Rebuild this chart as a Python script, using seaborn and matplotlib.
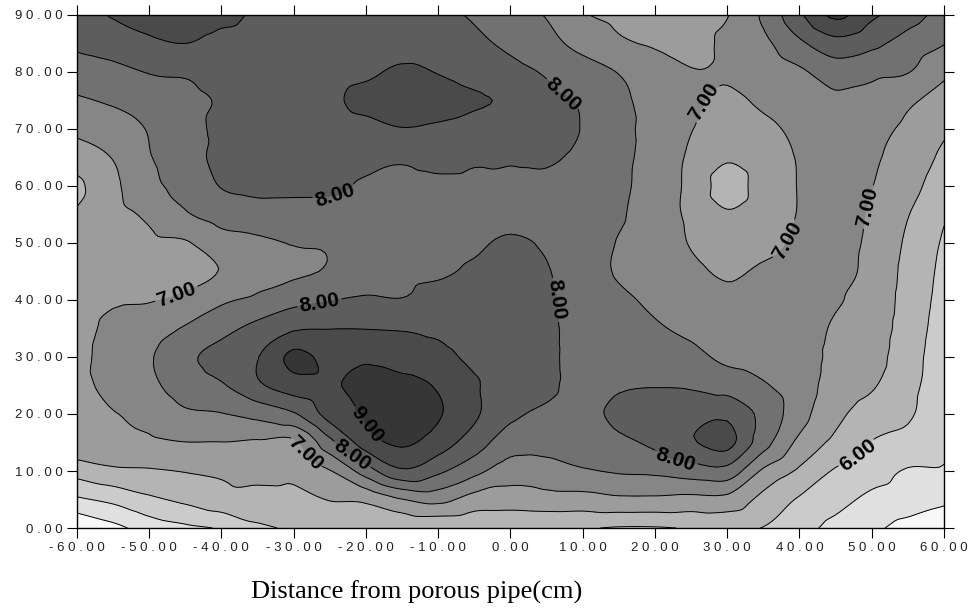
import numpy as np
import pandas as pd
import matplotlib
matplotlib.use("Agg")
from matplotlib import pyplot as plt
import matplotlib.tri as mtri
import seaborn as sns

# distance from porous pipe (cm) and depth (cm) of the grid nodes
distance_cm = [-60, -55, -50, -45, -40, -35, -30, -25, -20, -15, -10, -5, 0,
               5, 10, 15, 20, 25, 30, 35, 40, 45, 50, 55, 60]
depth_cm = [0, 5, 10, 15, 20, 25, 30, 35, 40, 45, 50, 55, 60, 65, 70, 75, 80, 85, 90]

# moisture, one list per distance column (depth 0 -> 90)
moisture_columns = [
    [4.50, 5.42, 6.20, 6.85, 6.88, 6.85, 6.82, 6.80, 6.78, 6.72, 6.65, 6.55, 6.40, 6.75, 7.10, 7.43, 7.79, 8.08, 8.22],
    [4.85, 5.62, 6.40, 6.93, 6.98, 7.15, 7.22, 7.12, 6.95, 6.88, 6.85, 6.85, 6.88, 7.02, 7.25, 7.57, 7.88, 8.20, 8.54],
    [5.22, 5.90, 6.45, 6.92, 7.12, 7.38, 7.45, 7.25, 6.98, 6.90, 6.92, 7.08, 7.40, 7.47, 7.53, 7.75, 8.02, 8.40, 8.72],
    [5.40, 6.10, 6.52, 6.99, 7.42, 7.75, 7.90, 7.55, 7.08, 6.90, 6.96, 7.45, 7.62, 7.74, 7.82, 7.90, 8.05, 8.50, 8.85],
    [5.55, 6.30, 6.58, 6.99, 7.48, 7.95, 8.15, 7.85, 7.42, 7.02, 7.30, 7.70, 8.02, 8.15, 8.10, 8.04, 8.15, 8.35, 8.62],
    [5.92, 6.30, 6.68, 6.94, 7.65, 8.42, 8.48, 8.15, 7.60, 7.32, 7.40, 7.82, 8.10, 8.20, 8.22, 8.25, 8.30, 8.38, 8.45],
    [6.05, 6.35, 6.65, 6.90, 7.95, 8.75, 9.12, 8.45, 7.85, 7.42, 7.52, 7.82, 8.10, 8.20, 8.22, 8.26, 8.30, 8.34, 8.38],
    [6.10, 6.52, 6.97, 7.85, 8.70, 8.88, 8.85, 8.49, 7.98, 7.55, 7.55, 7.82, 8.08, 8.20, 8.30, 8.42, 8.35, 8.33, 8.32],
    [6.10, 6.60, 7.75, 8.75, 9.05, 9.25, 8.90, 8.49, 8.05, 7.85, 7.78, 7.82, 7.95, 8.12, 8.35, 8.62, 8.42, 8.30, 8.25],
    [6.05, 6.98, 8.42, 9.08, 9.35, 9.15, 8.75, 8.47, 8.02, 7.90, 7.85, 7.86, 7.92, 8.05, 8.48, 8.75, 8.58, 8.30, 8.18],
    [6.02, 7.15, 8.10, 8.75, 9.05, 8.95, 8.65, 8.40, 8.15, 7.95, 7.90, 7.90, 7.95, 8.10, 8.42, 8.70, 8.48, 8.25, 8.10],
    [6.05, 6.80, 7.65, 8.25, 8.58, 8.55, 8.40, 8.25, 8.15, 8.05, 7.95, 7.92, 7.95, 8.05, 8.30, 8.56, 8.30, 8.10, 7.95],
    [6.04, 6.75, 7.25, 7.72, 8.10, 8.30, 8.35, 8.30, 8.25, 8.15, 8.05, 7.90, 7.90, 8.05, 8.22, 8.42, 8.15, 7.90, 7.72],
    [6.05, 6.80, 7.32, 7.65, 7.92, 8.08, 8.10, 8.10, 8.08, 8.03, 7.95, 7.85, 7.92, 8.05, 8.18, 8.10, 7.95, 7.65, 7.47],
    [6.03, 6.80, 7.45, 7.75, 7.88, 7.88, 7.85, 7.82, 7.78, 7.72, 7.70, 7.72, 7.80, 7.90, 7.98, 7.95, 7.72, 7.35, 7.05],
    [5.96, 6.90, 7.55, 7.90, 8.10, 7.95, 7.80, 7.70, 7.58, 7.46, 7.48, 7.55, 7.60, 7.62, 7.62, 7.60, 7.48, 7.08, 6.88],
    [5.96, 6.90, 7.60, 8.10, 8.25, 7.98, 7.75, 7.55, 7.42, 7.35, 7.30, 7.27, 7.28, 7.32, 7.36, 7.35, 7.20, 6.95, 6.75],
    [6.02, 6.85, 7.75, 8.45, 8.30, 7.95, 7.65, 7.40, 7.22, 7.10, 6.97, 6.90, 6.88, 6.92, 7.02, 7.08, 7.02, 6.88, 6.80],
    [6.02, 6.85, 7.82, 8.65, 8.40, 7.80, 7.38, 7.20, 7.08, 6.95, 6.78, 6.55, 6.30, 6.55, 6.78, 6.92, 7.05, 7.10, 6.98],
    [5.98, 6.35, 6.92, 7.70, 7.85, 7.55, 7.30, 7.20, 7.12, 7.05, 6.90, 6.78, 6.72, 6.78, 6.90, 7.08, 7.22, 7.38, 7.58],
    [5.68, 5.95, 6.42, 6.88, 7.20, 7.25, 7.22, 7.18, 7.14, 7.10, 7.05, 7.02, 7.02, 7.03, 7.10, 7.25, 7.42, 7.90, 8.42],
    [5.35, 5.68, 5.95, 6.38, 6.62, 6.78, 6.88, 6.95, 7.03, 7.10, 7.15, 7.18, 7.20, 7.22, 7.28, 7.40, 7.75, 8.32, 9.10],
    [5.10, 5.38, 5.72, 5.98, 6.30, 6.55, 6.70, 6.80, 6.85, 6.88, 6.90, 6.94, 7.01, 7.06, 7.15, 7.35, 7.62, 8.12, 8.60],
    [4.85, 5.25, 5.46, 5.85, 6.07, 6.15, 6.20, 6.25, 6.30, 6.35, 6.42, 6.52, 6.68, 6.80, 6.90, 7.08, 7.52, 7.80, 8.22],
    [4.75, 5.08, 5.45, 5.56, 5.62, 5.70, 5.75, 5.80, 5.84, 5.88, 5.94, 6.05, 6.22, 6.40, 6.58, 6.82, 7.10, 7.52, 7.80],
]

fill_levels = [4.0, 5.0, 5.5, 6.0, 6.5, 7.0, 7.5, 8.0, 8.5, 9.0, 9.5]
plain_levels = [5.0, 5.5, 6.5, 7.5, 8.5]
label_levels = [6.0, 7.0, 8.0, 9.0]
band_colors = ["#f8f8f8", "#e0e0e0", "#cbcbcb", "#b4b4b4", "#9c9c9c",
               "#868686", "#717171", "#5d5d5d", "#4a4a4a", "#363636"]

# rough spots where the contour values are written
label_spots = [(-24.3, 58.4), (7.5, 76.8), (26.2, 75.1), (48.3, 56.7), (36.6, 51.4),
               (-46.0, 40.5), (-26.3, 38.8), (6.2, 40.0), (-18.7, 18.9), (-21.9, 12.8),
               (-27.7, 13.2), (23.0, 12.8), (47.7, 13.2)]

grid = pd.DataFrame(np.array(moisture_columns).T, index=depth_cm, columns=distance_cm)

sns.set_theme(style="ticks")
plt.rcParams["font.family"] = ["Liberation Sans", "DejaVu Sans"]

fig = plt.figure(figsize=(9.72, 6.09), dpi=100)
ax = fig.add_axes([0.0789, 0.133, 0.8923, 0.8424])

# smooth the read grid with matplotlib's own cubic refiner, then contour
X, Y = np.meshgrid(grid.columns.values, grid.index.values)
tri = mtri.Triangulation(X.ravel(), Y.ravel())
interp = mtri.CubicTriInterpolator(tri, grid.values.ravel(), kind="geom")
refiner = mtri.UniformTriRefiner(tri)
tri_fine, z_fine = refiner.refine_field(grid.values.ravel(), triinterpolator=interp, subdiv=3)

ax.tricontourf(tri_fine, z_fine, levels=fill_levels, colors=band_colors)
ax.tricontour(tri_fine, z_fine, levels=plain_levels, colors="black", linewidths=0.7)
cs = ax.tricontour(tri_fine, z_fine, levels=label_levels, colors="black", linewidths=0.7)
labels = ax.clabel(cs, manual=label_spots, fmt="%.2f", fontsize=15,
                   inline=True, inline_spacing=2)
for t in labels:
    t.set_fontweight("bold")

ax.set_xlim(-60, 60)
ax.set_ylim(0, 90)
xt = list(range(-60, 61, 10))
yt = list(range(0, 91, 10))
ax.set_xticks(xt)
ax.set_yticks(yt)
ax.set_xticklabels([" ".join(f"{v:.2f}") for v in xt], fontsize=9.5, color="#222222")
ax.set_yticklabels([" ".join(f"{v:.2f}") for v in yt], fontsize=9.5, color="#222222")
ax.tick_params(which="both", direction="out", top=True, right=True, length=7,
               width=0.8, color="black", labeltop=False, labelright=False, pad=3)
for s in ax.spines.values():
    s.set_visible(True)
    s.set_color("black")
    s.set_linewidth(1.0)
ax.set_xlabel("")
ax.set_ylabel("")

fig.text(417 / 972, 1 - 592 / 609, "Distance from porous pipe(cm)", ha="center", va="center",
         fontsize=19, family=["Liberation Serif", "DejaVu Serif"], color="black")

fig.savefig("out.png", dpi=100)
